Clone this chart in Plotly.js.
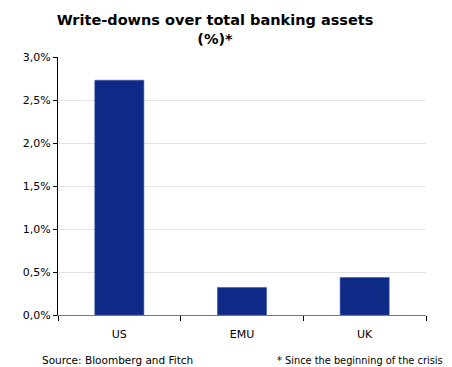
<!DOCTYPE html>
<html><head><meta charset="utf-8">
<script src="https://cdn.plot.ly/plotly-3.0.1.min.js"></script>
<style>body{margin:0;background:#fff}#c{width:452px;height:367px}</style>
</head><body><div id="c"></div>
<script>
const categories = ["US", "EMU", "UK"];
const writeDowns = [2.73, 0.32, 0.435];
const titleText = "Write-downs over total banking assets<br>(%)*";
const sourceNote = "Source: Bloomberg and Fitch";
const starNote = "* Since the beginning of the crisis";

const font = "Tahoma, 'DejaVu Sans', Verdana, sans-serif";
Plotly.newPlot("c", [{
  type: "bar", x: categories, y: writeDowns, width: 0.4,
  marker: {color: "#0d2a86", line: {color: "#3a55a8", width: 0.6}},
  hoverinfo: "skip"
}], {
  width: 452, height: 367,
  margin: {l: 58, r: 26, t: 57, b: 52},
  separators: ",.",
  paper_bgcolor: "#fff", plot_bgcolor: "#fff",
  font: {family: font, size: 11, color: "#000"},
  title: {text: titleText, xref: "paper", x: (215-58)/368, xanchor: "center",
          yref: "container", y: 1 - 25/367, yanchor: "middle",
          font: {family: "'DejaVu Sans', Verdana, sans-serif", size: 14.5, color: "#000", weight: "bold"}},
  xaxis: {type: "category", tickson: "boundaries", ticks: "outside", ticklen: 5, tickcolor: "#000",
          showline: true, linecolor: "#777", linewidth: 1, showgrid: false, ticklabelstandoff: 9,
          tickfont: {family: font, size: 11}, fixedrange: true},
  yaxis: {range: [0, 3], dtick: 0.5, tickformat: ".1f", ticksuffix: "%",
          ticks: "outside", ticklen: 4, tickcolor: "#000",
          showline: true, linecolor: "#000", linewidth: 1,
          showgrid: true, gridcolor: "#e3e3e3", gridwidth: 1, zeroline: false,
          tickfont: {family: font, size: 11}, fixedrange: true},
  showlegend: false,
  annotations: [
    {text: sourceNote, xref: "paper", yref: "paper", x: (40-58)/368, y: -0.175, xanchor: "left", yanchor: "middle",
     showarrow: false, font: {family: font, size: 10.5}},
    {text: starNote, xref: "paper", yref: "paper", x: (275-58)/368, y: -0.175, xanchor: "left", yanchor: "middle",
     showarrow: false, font: {family: font, size: 9.8}}
  ]
}, {displayModeBar: false, staticPlot: true});
</script></body></html>
